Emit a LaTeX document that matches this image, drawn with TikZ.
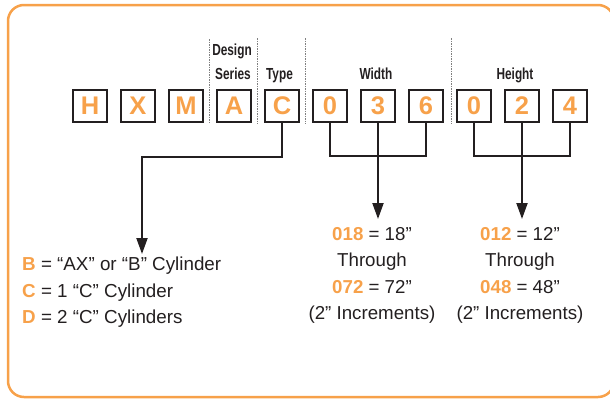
\documentclass[tikz,border=0pt]{standalone}
\usepackage{fontspec}
\setmainfont{Liberation Sans}
\newfontfamily\headfont[FakeStretch=0.74]{Liberation Sans}
\usetikzlibrary{arrows.meta}
\definecolor{codeorange}{RGB}{247,161,74}
\definecolor{ink}{RGB}{35,31,32}

\begin{document}
\begin{tikzpicture}[x=1pt,y=-1pt,
  letterbox/.style={draw=ink,line width=2pt,minimum width=34pt,minimum height=32pt,
    inner sep=0pt,text=codeorange,font=\fontsize{25.5}{25.5}\selectfont\bfseries},
  head/.style={anchor=base,text=ink,font=\headfont\fontsize{16}{16}\selectfont\bfseries},
  sep/.style={draw=gray,line width=1pt,dash pattern=on 1.5pt off 1pt},
  wire/.style={draw=ink,line width=2pt},
  pointer/.style={wire,-{Triangle[length=16pt,width=11pt]}},
  legend/.style={anchor=base west,text=ink,inner sep=0pt,font=\fontsize{18.8}{18.8}\selectfont},
  rangeline/.style={anchor=base,text=ink,inner sep=0pt,font=\fontsize{18.7}{18.7}\selectfont}]
  \useasboundingbox (0,0) rectangle (610,399);

  % frame
  \draw[codeorange,line width=2.5pt,rounded corners=16pt] (8,5) rectangle (614,397);

  % code letters
  \foreach \ch [count=\i] in {H,X,M,A,C,0,3,6,0,2,4}
    \node[letterbox] (b\i) at ({90+48*(\i-1)},106) {\ch};

  % group separators
  \draw[sep] (209.5,39) -- (209.5,124);
  \draw[sep] (257.5,38) -- (257.5,124);
  \draw[sep] (305.5,38) -- (305.5,124);
  \draw[sep] (451.5,38) -- (451.5,124);

  % headings
  \node[head] (hdesign) at (232,55.5) {Design};
  \node[head] (hseries) at (233,79.5) {Series};
  \node[head] (htype) at (279.5,79.5) {Type};
  \node[head] (hwidth) at (376,79.5) {Width};
  \node[head] (hheight) at (515,79.5) {Height};

  % type pointer
  \coordinate (tj) at (142,157);
  \coordinate (ta) at (142,254);
  \draw[pointer] (b5.south) -- (b5.south |- tj) -- (tj) -- (ta);

  % width bracket
  \coordinate (wj) at (378,156);
  \coordinate (wa) at (378,219);
  \draw[wire] (b6.south) -- (b6.south |- wj) -- (b8.south |- wj) -- (b8.south);
  \draw[pointer] (b7.south) -- (wa);

  % height bracket
  \coordinate (hj) at (522,156);
  \coordinate (ha) at (522,219);
  \draw[wire] (b9.south) -- (b9.south |- hj) -- (b11.south |- hj) -- (b11.south);
  \draw[pointer] (b10.south) -- (ha);

  % type legend
  \node[legend] (tb) at (22,270) {{\color{codeorange}\bfseries B} = “AX” or “B” Cylinder};
  \node[legend] (tc) at (22,297) {{\color{codeorange}\bfseries C} = 1 “C” Cylinder};
  \node[legend] (td) at (22,323) {{\color{codeorange}\bfseries D} = 2 “C” Cylinders};

  % width range
  \node[rangeline] (w1) at (372,240) {{\color{codeorange}\bfseries 018} = 18”};
  \node[rangeline] (w2) at (372,266.5) {Through};
  \node[rangeline] (w3) at (372,293) {{\color{codeorange}\bfseries 072} = 72”};
  \node[rangeline] (w4) at (372,319.5) {(2” Increments)};

  % height range
  \node[rangeline] (h1) at (520,240) {{\color{codeorange}\bfseries 012} = 12”};
  \node[rangeline] (h2) at (520,266.5) {Through};
  \node[rangeline] (h3) at (520,293) {{\color{codeorange}\bfseries 048} = 48”};
  \node[rangeline] (h4) at (520,319.5) {(2” Increments)};
\end{tikzpicture}
\end{document}
